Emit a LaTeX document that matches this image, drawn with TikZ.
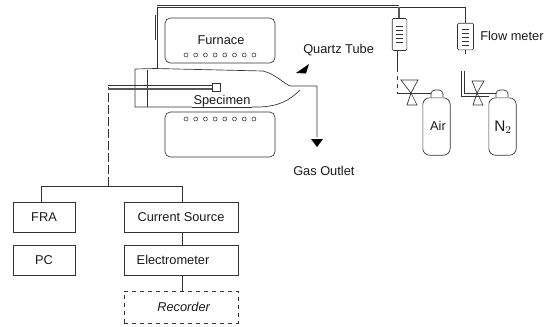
\documentclass[tikz,border=0pt]{standalone}
\usepackage{fontspec}
\setmainfont{Liberation Sans}
\usetikzlibrary{arrows.meta}
\tikzset{
  ln/.style={draw=black!80,line width=0.5pt},
  thick ln/.style={draw=black!65,line width=1pt},
  lab/.style={font=\fontsize{9.6pt}{11pt}\selectfont,text=black!90,inner sep=0pt},
  bx/.style={ln,minimum width=#1*0.75pt,inner sep=0pt,minimum height=22.5pt},
  coil/.style={circle,draw=black!75,line width=0.45pt,minimum size=3pt,inner sep=0pt},
  tip/.style={fill=black,draw=none},
  valvetri/.style={ln,fill=white},
}
\begin{document}
\begin{tikzpicture}[x=0.75pt,y=-0.75pt]
\useasboundingbox (0,0) rectangle (554,326);
% instrument boxes
\node[bx=62,lab] (fra) at (44,217) {FRA};
\node[bx=62,lab] (pc) at (44,260.5) {PC};
\node[bx=114,lab] (cs) at (181,217) {Current Source};
\node[bx=114,lab] (em) at (181,260) {\hspace{-12pt}Electrometer};
\node[bx=114,lab,dashed,minimum height=24pt] (rec) at (181,307) {\hspace{4pt}\itshape Recorder};
% bus
\coordinate (busL) at (41,186);
\coordinate (busR) at (182,186);
\coordinate (busM) at (108,186);
\coordinate (probe) at (108,87);
\draw[ln] (fra.north -| busL) -- (busL) -- (busR) -- (cs.north -| busR);
\draw[ln] (cs.south -| busR) -- (em.north -| busR);
\draw[ln] (em.south -| busR) -- (rec.north -| busR);
\draw[ln,dash pattern=on 7pt off 2pt] (busM) -- (probe);
% furnace
\node[ln,rounded corners=4pt,minimum width=82.5pt,minimum height=33.75pt,inner sep=0pt] (fu) at (220,40.5) {};
\node[ln,rounded corners=4pt,minimum width=82.5pt,minimum height=33.75pt,inner sep=0pt] (fl) at (220,134.5) {};
\node[lab] (furn) at (221,40) {Furnace};
\foreach \i in {0,...,7}{
  \node[coil] (cu\i) at (186+\i*9.7,55) {};
  \node[coil] (cl\i) at (186+\i*9.7,119) {};
}
% quartz tube
\coordinate (t1) at (135,69);
\coordinate (t2) at (135,107);
\coordinate (t3) at (147,70);
\coordinate (t4) at (147,107);
\coordinate (t5) at (155,68.5);
\coordinate (t6) at (263,71);
\coordinate (t7) at (290,86);
\coordinate (t8) at (260,107);
\coordinate (t9) at (300,90);
\coordinate (out) at (317,86);
\coordinate (outb) at (317,137);
\draw[ln] (t1) -- (t2) -- (t8) .. controls (280,106) and (290,100) .. (t9);
\draw[ln] (t1) -- (t5) -- (t6) .. controls (275,74) and (282,82) .. (t7) -- (out) -- (outb);
\draw[ln] (t3) -- (t4);
\node[lab,fill=white,inner xsep=1pt] (spec) at (222,101) {Specimen};
\draw[ln] (spec.south west) -- (spec.south east);
% specimen holder
\coordinate (h1) at (108,85.5);
\coordinate (h2) at (213,85.5);
\coordinate (h3) at (108,89);
\coordinate (h4) at (213,89);
\draw[ln] (h1) -- (h2);
\draw[thick ln] (h3) -- (h4);
\node[ln,minimum size=6pt,inner sep=0pt] (sp) at (216,87.5) {};
% pointer arrows
\fill[tip] (309,64) -- (296,73) -- (306,73.5) -- cycle;
\fill[tip] (311,139) -- (323,139) -- (317,147) -- cycle;
\node[lab,anchor=west] (qt) at (303,50) {Quartz Tube};
\node[lab,anchor=west] (go) at (293,171) {Gas Outlet};
% gas main
\coordinate (g0) at (157,68);
\coordinate (g1) at (157,7);
\coordinate (g2) at (399,7);
\coordinate (g3) at (465,7);
\draw[ln] (g0) -- (g1) -- (g3);
\draw[ln] (155,15) -- (155,40);
\draw[ln] (g1 |- 0,5.5) -- (399,5.5);
% flow meters
\node[ln,minimum width=11pt,minimum height=24pt,inner sep=0pt,rounded corners=1pt] (fm1) at (399.5,34.5) {};
\node[ln,minimum width=12pt,minimum height=20pt,inner sep=0pt,rounded corners=1pt] (fm2) at (465.5,36.5) {};
\draw[thick ln] (g2) -- (fm1.north -| g2);
\draw[ln] (g3) -- (fm2.north -| g3);
\foreach \yy in {26,30,34,38,42}{\draw[ln] (396,\yy) -- (403,\yy);}
\foreach \yy in {29,33,37,41,45}{\draw[ln] (462,\yy) -- (469,\yy);}
\coordinate (fb2) at (465.5,54);
\draw[ln] (fm2.south) -- (fb2);
\node[lab,anchor=west] (fmt) at (480,36) {Flow meter};
% bottles
\node[ln,rounded corners=5pt,minimum width=20.5pt,minimum height=43pt,inner sep=0pt] (air) at (436.5,126.5) {};
\node[ln,rounded corners=5pt,minimum width=20.5pt,minimum height=43pt,inner sep=0pt] (n2) at (502.5,126.5) {};
\node[lab] (airt) at (438,126) {Air};
\node[lab,font=\fontsize{11.5pt}{13pt}\selectfont] (n2t) at (503,127) {N$_2$};
\draw[ln,rounded corners=3pt] (air.north -| 431,0) -- (431,90) -- (443,90) -- (443,97);
\draw[ln,rounded corners=3pt] (n2.north -| 496,0) -- (496,90) -- (508,90) -- (508,97);
% valves
\coordinate (v1) at (411,93);
\coordinate (v2) at (477,93);
\draw[valvetri] (v1) -- (401,80) -- (418,80) -- cycle;
\draw[valvetri] (v1) -- (407,105) -- (417,105) -- cycle;
\draw[valvetri] (v2) -- (472,81) -- (484,81) -- cycle;
\draw[valvetri] (v2) -- (473,105) -- (483,105) -- cycle;
% gas pipes
\coordinate (p1) at (397,93);
\coordinate (p2) at (431,93);
\draw[ln] (fm1.south -| p1) -- (397,68);
\draw[ln,dashed] (397,68) -- (p1);
\draw[ln] (p1) -- (p2);
\draw[ln] (464,71) -- (464,93) -- (496,93);
\draw[ln] (461,71) -- (461,96) -- (489,96);
\end{tikzpicture}
\end{document}
